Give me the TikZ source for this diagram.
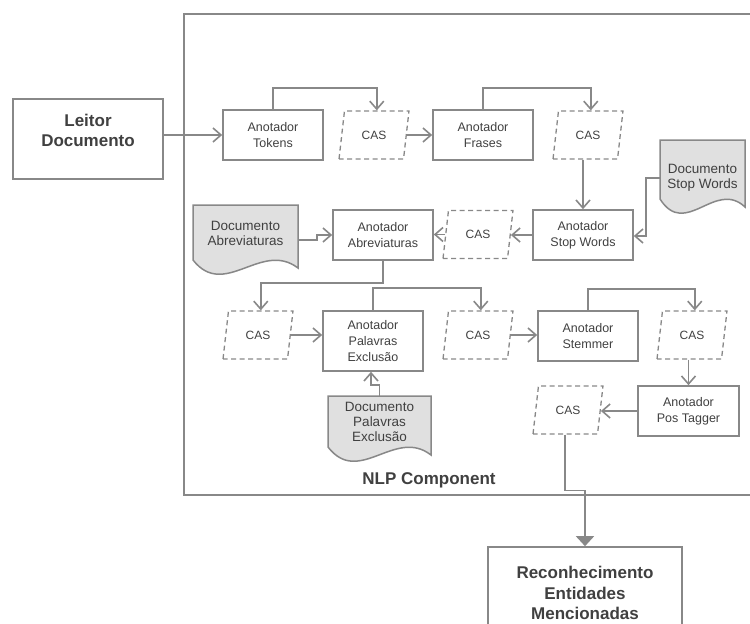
\documentclass[tikz,border=0pt]{standalone}
\usepackage{fontspec}
\setmainfont{Liberation Sans}
\usetikzlibrary{arrows.meta,shapes.geometric}
\definecolor{linegray}{HTML}{888888}
\definecolor{txtgray}{HTML}{404040}
\definecolor{docgray}{HTML}{E0E0E0}
\newcommand{\docshape}[4]{%
  \filldraw[doc] (#1,#2) -- ({#1+#3},#2) -- ({#1+#3},{#2+#4+8})
    .. controls ({#1+0.65*#3},{#2+#4-20}) and ({#1+0.3*#3},{#2+#4+40}) .. (#1,{#2+#4}) -- cycle;}
\begin{document}
\begin{tikzpicture}[x=1pt,y=-1pt,
    box/.style={draw=linegray, line width=1.6pt, minimum width=100, minimum height=50, align=center, text=txtgray, font=\fontsize{12.5}{16}\selectfont, inner sep=1pt},
    bigbox/.style={draw=linegray, line width=1.6pt, align=center, text=txtgray, font=\fontsize{17}{20.5}\selectfont\bfseries},
    cas/.style={trapezium, trapezium left angle=75, trapezium right angle=105, trapezium stretches=true, draw=linegray, line width=1.3pt, dash pattern=on 5pt off 3.5pt, minimum width=70, minimum height=48, inner sep=0pt, text=txtgray, font=\fontsize{12}{14}\selectfont},
    doc/.style={fill=docgray, draw=linegray, line width=1.5pt},
    doctxt/.style={align=center, inner sep=0pt, outer sep=0pt, text=txtgray, font=\fontsize{13.5}{15}\selectfont},
    arr/.style={draw=linegray, line width=1.6pt, -{Straight Barb[length=8pt,width=14pt]}},
    ]
    \useasboundingbox (0,0) rectangle (750,624);
    \clip (0,0) rectangle (750,624);
    \draw[linegray, line width=2pt] (752,14) -- (184,14) -- (184,495) -- (752,495);
    \node[text=txtgray, font=\fontsize{17}{20}\selectfont\bfseries] (nlp) at (429,480) {NLP Component};

    \node[bigbox, minimum width=150, minimum height=80] (leitor) at (88,139) {};
    \node[text=txtgray, align=center, font=\fontsize{17}{20.5}\selectfont\bfseries] (leitortxt) at (88,130.5) {Leitor\\Documento};
    \node[bigbox, minimum width=194, minimum height=92] (recon) at (585,593) {Reconhecimento\\Entidades\\Mencionadas};

    \node[box] (tokens) at (273,135) {Anotador\\Tokens};
    \node[cas] (cas1) at (374,135) {CAS};
    \node[box] (frases) at (483,135) {Anotador\\Frases};
    \node[cas] (cas2) at (588,135) {CAS};
    \node[box] (stopw) at (583,235) {Anotador\\Stop Words};
    \node[cas] (cas3) at (478,234.5) {CAS};
    \node[box] (abrev) at (383,235) {Anotador\\Abreviaturas};
    \node[cas] (cas4) at (258,335) {CAS};
    \node[box, minimum height=60] (palav) at (373,341) {Anotador\\Palavras\\Exclusão};
    \node[cas] (cas5) at (478,335) {CAS};
    \node[box] (stem) at (588,336) {Anotador\\Stemmer};
    \node[cas] (cas6) at (692,335) {CAS};
    \node[box, minimum width=101] (pos) at (688.5,411) {Anotador\\Pos Tagger};
    \node[cas] (cas7) at (568,410) {CAS};

    \docshape{660}{140}{85}{59}
    \node[doctxt, minimum width=85, minimum height=76] (docsw) at (702.5,178) {Documento\\Stop Words};
    \docshape{193}{205}{105}{55}
    \node[doctxt, minimum width=105, minimum height=57] (docab) at (245.5,233.5) {Documento\\Abreviaturas};
    \docshape{328}{396}{103}{51}
    \node[doctxt, minimum width=103, minimum height=52] (docpe) at (379.5,422) {Documento\\Palavras\\Exclusão};

    \draw[arr] (tokens.west -| leitor.east) -- (tokens.west);
    \draw[arr] (tokens.north) -- ++(0,-21) -| (cas1.top side);
    \draw[arr] (cas1.right side) -- (cas1.right side -| frases.west);
    \draw[arr] (frases.north) -- ++(0,-21) -| (cas2.top side);
    \draw[arr] (cas2.bottom side -| stopw.north) -- (stopw.north);
    \draw[arr] (docsw.west) -- ++(-14,0) |- ([yshift=-1pt]stopw.east);
    \draw[arr] (stopw.west) -- (stopw.west -| cas3.right side);
    \draw[arr] (cas3.left side) -- (cas3.left side -| abrev.east);
    \draw[arr] ([yshift=-6.5pt]docab.east) -- ++(19,0) |- (abrev.west);
    \draw[arr] (abrev.south) -- ++(0,22) -| (cas4.top side);
    \draw[arr] (cas4.right side) -- (cas4.right side -| palav.west);
    \draw[arr] (docpe.north) -- ++(0,-11) -| ([xshift=-2pt]palav.south);
    \draw[arr] (palav.north) -- ++(0,-22) -| (cas5.top side);
    \draw[arr] (cas5.right side) -- (cas5.right side -| stem.west);
    \draw[arr] (stem.north) -- ++(0,-21) -| (cas6.top side);
    \draw[arr] (cas6.bottom side -| pos.north) -- (pos.north);
    \draw[arr] (pos.west) -- (pos.west -| cas7.right side);
    \draw[draw=linegray, line width=1.6pt, -{Triangle[length=10pt,width=18pt]}] (cas7.bottom side) -- ++(0,56) -| (recon.north);
\end{tikzpicture}
\end{document}
